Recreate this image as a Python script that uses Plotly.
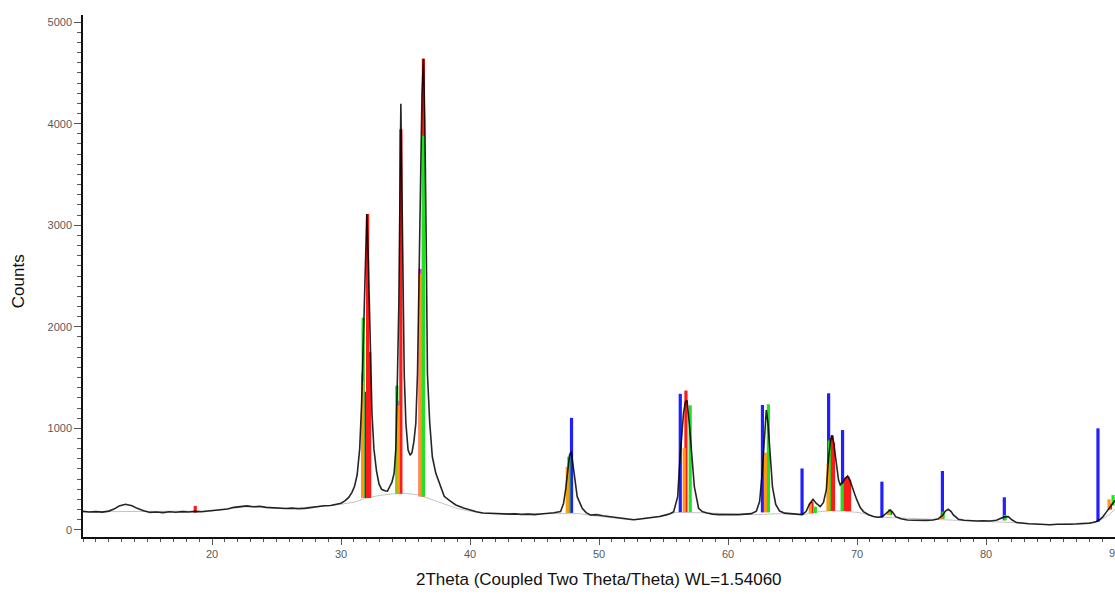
import plotly.graph_objects as go

# ---- measured diffraction pattern (2theta in degrees, counts) ----
two_theta = [10.0, 10.5, 11.0, 11.5, 12.0, 12.4, 12.8, 13.3, 13.8, 14.2, 14.7, 15.2, 15.7, 16.2, 16.7,
             17.2, 17.7, 18.2, 18.7, 19.2, 19.7, 20.2, 20.7, 21.2, 21.7, 22.2, 22.7, 23.2, 23.7, 24.2,
             24.7, 25.2, 25.7, 26.2, 26.7, 27.2, 27.7, 28.2, 28.7, 29.2, 29.6, 30.0, 30.3, 30.6, 30.85,
             31.05, 31.25, 31.45, 31.6, 31.75, 31.88, 32.0, 32.12, 32.25, 32.4, 32.55, 32.75, 32.95, 33.15,
             33.4, 33.6, 33.75, 33.95, 34.12, 34.25, 34.38, 34.48, 34.56, 34.64, 34.72, 34.8, 34.9, 35.03,
             35.2, 35.36, 35.5, 35.65, 35.8, 35.93, 36.06, 36.15, 36.28, 36.39, 36.5, 36.6, 36.7, 36.88,
             37.08, 37.35, 37.65, 38.0, 38.4, 38.9, 39.5, 40.0, 40.5, 41.0, 41.5, 42.0, 42.5, 43.0,
             43.5, 44.0, 44.5, 45.0, 45.5, 46.0, 46.5, 47.02, 47.25, 47.41, 47.59, 47.72, 47.85, 47.95,
             48.05, 48.31, 48.7, 49.0, 49.34, 49.8, 50.3, 50.8, 51.3, 51.8, 52.3, 52.7, 53.2, 53.7,
             54.2, 54.7, 55.2, 55.5, 55.79, 56.1, 56.25, 56.4, 56.55, 56.7, 56.82, 57.0, 57.2, 57.39,
             57.72, 58.0, 58.37, 58.8, 59.3, 59.8, 60.3, 60.8, 61.3, 61.8, 62.2, 62.45, 62.65, 62.82,
             62.97, 63.1, 63.28, 63.45, 63.7, 64.0, 64.4, 64.9, 65.3, 65.74, 66.05, 66.3, 66.59, 66.85,
             67.15, 67.4, 67.62, 67.8, 67.95, 68.06, 68.18, 68.31, 68.45, 68.57, 68.7, 68.9, 69.1, 69.27,
             69.45, 69.6, 69.8, 69.99, 70.25, 70.5, 70.9, 71.28, 71.6, 71.93, 72.2, 72.4, 72.57, 72.75,
             73.0, 73.4, 73.9, 74.4, 74.9, 75.4, 75.9, 76.3, 76.62, 76.85, 77.08, 77.3, 77.47, 77.86,
             78.3, 78.8, 79.3, 79.8, 80.3, 80.8, 81.2, 81.42, 81.73, 82.0, 82.37, 82.8, 83.3, 83.8,
             84.3, 84.95, 85.5, 86.0, 86.5, 87.0, 87.53, 88.0, 88.3, 88.56, 88.8, 89.07, 89.3, 89.46,
             89.65, 89.85, 90.0]
counts = [182, 176, 180, 175, 185, 205, 235, 252, 238, 212, 188, 172, 176, 170, 178,
          174, 180, 176, 182, 178, 186, 190, 198, 205, 222, 230, 236, 228, 232, 222,
          218, 214, 210, 214, 208, 212, 222, 232, 238, 240, 248, 262, 285, 320, 370,
          430, 540, 800, 1250, 2000, 2750, 3110, 2650, 1850, 1150, 800, 580, 450, 400,
          385, 382, 420, 470, 560, 800, 1540, 2200, 3180, 4195, 3400, 2500, 1540, 1050,
          785, 735, 760, 870, 1050, 1540, 2520, 3440, 4300, 4640, 4000, 2900, 1540, 1050,
          720, 557, 460, 330, 290, 245, 215, 195, 178, 166, 162, 158, 160, 155,
          158, 152, 155, 150, 156, 160, 168, 180, 260, 393, 622, 740, 770, 680,
          557, 327, 213, 170, 147, 150, 140, 132, 122, 110, 104, 100, 108, 115,
          122, 132, 148, 160, 180, 327, 655, 950, 1150, 1260, 1275, 1050, 752, 425,
          213, 180, 167, 155, 150, 148, 152, 150, 155, 160, 185, 280, 560, 950,
          1180, 1050, 700, 420, 250, 185, 165, 158, 155, 150, 180, 250, 301, 260,
          229, 270, 393, 720, 880, 933, 870, 752, 600, 490, 442, 470, 510, 530,
          490, 442, 360, 295, 220, 180, 150, 131, 125, 128, 160, 185, 196, 175,
          130, 110, 98, 95, 92, 94, 98, 110, 140, 185, 203, 180, 147, 105,
          95, 90, 88, 90, 88, 95, 115, 128, 131, 100, 72, 65, 60, 58,
          55, 50, 55, 52, 56, 58, 59, 65, 72, 82, 100, 131, 170, 196,
          230, 262, 290]

# ---- fitted background (grey line) ----
bg_theta = [10.0, 20.0, 22.5, 26.0, 29.5, 30.5, 31.0, 32.0, 33.0, 34.0, 35.0, 36.0, 36.44, 37.0,
            38.0, 39.0, 40.0, 41.0, 46.5, 48.5, 49.5, 52.5, 55.0, 56.0, 58.0, 62.0, 64.0, 65.8,
            66.3, 67.0, 68.0, 69.0, 70.0, 70.5, 71.3, 76.0, 78.3, 80.3, 82.4, 85.0, 88.6, 89.3, 90.0]
bg_counts = [178, 186, 228, 210, 243, 258, 272, 314, 340, 355, 360, 345, 327, 300,
             255, 210, 185, 163, 160, 160, 140, 98, 140, 172, 168, 150, 160, 148,
             163, 178, 188, 186, 172, 162, 128, 105, 92, 86, 70, 49, 78, 128, 200]

# ---- reference pattern sticks (position, top, base on background) ----
magenta_theta = [31.69, 34.40, 36.13]
magenta_top = [1540, 1270, 2570]
magenta_base = [314, 357, 330]

blue_theta = [31.88, 47.87, 56.30, 62.67, 65.74, 67.80, 68.88, 71.93, 76.62, 81.42, 88.68]
blue_top = [1360, 1103, 1340, 1230, 605, 1345, 983, 475, 580, 321, 1000]
blue_base = [314, 167, 175, 172, 150, 186, 186, 128, 110, 95, 80]

red_theta = [18.70, 32.06, 32.22, 34.64, 36.39, 56.74, 66.51, 67.98, 68.08, 68.18, 69.05, 69.17,
             69.30, 69.42, 72.60, 89.65]
red_top = [236, 3110, 1750, 3945, 4640, 1372, 278, 890, 930, 860, 490, 515, 525, 495, 190, 260]
red_base = [170, 314, 314, 357, 330, 175, 165, 188, 188, 188, 186, 186, 186, 186, 147, 200]

green_theta = [31.72, 34.33, 36.39, 47.66, 57.07, 63.13, 66.77, 67.85, 68.85, 72.52, 76.68, 81.48, 89.85]
green_top = [2090, 1420, 3880, 720, 1227, 1237, 229, 880, 458, 203, 180, 147, 343]
green_base = [314, 357, 330, 167, 175, 172, 165, 188, 186, 147, 110, 95, 240]

orange_theta = [31.67, 34.43, 36.13, 47.54, 56.61, 62.90, 66.38, 67.75, 72.44, 76.55, 81.35, 89.54]
orange_top = [1460, 1225, 2525, 620, 805, 760, 262, 655, 180, 147, 98, 301]
orange_base = [314, 357, 330, 167, 175, 172, 165, 188, 147, 110, 95, 200]

x_ticks = [20, 30, 40, 50, 60, 70, 80, 90]
y_ticks = [0, 1000, 2000, 3000, 4000, 5000]


def stick_xy(theta, base, top):
    xs, ys = [], []
    for t, b, h in zip(theta, base, top):
        xs += [t, t, None]
        ys += [b, h, None]
    return xs, ys


fig = go.Figure()

fig.add_trace(go.Scatter(x=bg_theta, y=bg_counts, mode="lines",
                         line=dict(color="#c4c4c4", width=1), hoverinfo="skip"))

phases = [
    (magenta_theta, magenta_base, magenta_top, "#ff20ff"),
    (blue_theta, blue_base, blue_top, "#2020ff"),
    (red_theta, red_base, red_top, "#ff1a1a"),
    (green_theta, green_base, green_top, "#22e022"),
    (orange_theta, orange_base, orange_top, "#ff9a10"),
]
for th, base, top, col in phases:
    xs, ys = stick_xy(th, base, top)
    fig.add_trace(go.Scatter(x=xs, y=ys, mode="lines",
                             line=dict(color=col, width=3.2), hoverinfo="skip"))

fig.add_trace(go.Scatter(x=two_theta, y=counts, mode="lines",
                         line=dict(color="rgba(0,0,0,0.85)", width=1.6), hoverinfo="skip"))

tick_font = dict(family="Arial, Liberation Sans, sans-serif", size=11, color="#5a5a5a")

fig.update_layout(
    width=1115, height=594,
    margin=dict(l=83, r=0, t=15, b=57, autoexpand=False),
    paper_bgcolor="white", plot_bgcolor="white",
    showlegend=False,
    xaxis=dict(range=[10, 90], showgrid=False, zeroline=False, automargin=False,
               showline=True, linecolor="#111111", linewidth=1.5,
               tickmode="array", tickvals=x_ticks, ticktext=[str(v) for v in x_ticks],
               ticks="outside", ticklen=6, tickwidth=1, tickcolor="#555555",
               tickfont=tick_font,
               minor=dict(dtick=1, ticks="outside", ticklen=3, tickcolor="#555555", showgrid=False)),
    yaxis=dict(range=[-70, 5070], showgrid=False, zeroline=False, automargin=False,
               showline=True, linecolor="#111111", linewidth=1.5,
               tickmode="array", tickvals=y_ticks, ticktext=[str(v) for v in y_ticks],
               ticks="outside", ticklen=7, tickwidth=1, tickcolor="#555555",
               tickfont=tick_font,
               minor=dict(dtick=100, ticks="outside", ticklen=4, tickcolor="#555555", showgrid=False)),
    annotations=[
        dict(text=str(x_ticks[-1]), xref="x", yref="paper", x=x_ticks[-1], y=0, yshift=-16,
             xanchor="center", yanchor="middle", showarrow=False, font=tick_font),
        dict(text="2Theta (Coupled Two Theta/Theta) WL=1.54060", xref="paper", yref="paper",
             x=0.5, y=-0.082, xanchor="center", yanchor="middle", showarrow=False,
             font=dict(family="Arial, Liberation Sans, sans-serif", size=17, color="#111111")),
        dict(text="Counts", xref="paper", yref="paper", x=-0.063, y=0.49,
             xanchor="center", yanchor="middle", textangle=-90, showarrow=False,
             font=dict(family="Arial, Liberation Sans, sans-serif", size=17, color="#111111")),
    ],
)

fig.write_html(
    "out.html",
    config={"displayModeBar": False},
    post_script="document.body.style.margin='0';document.body.style.padding='0';"
                "document.body.style.overflow='hidden';",
)
